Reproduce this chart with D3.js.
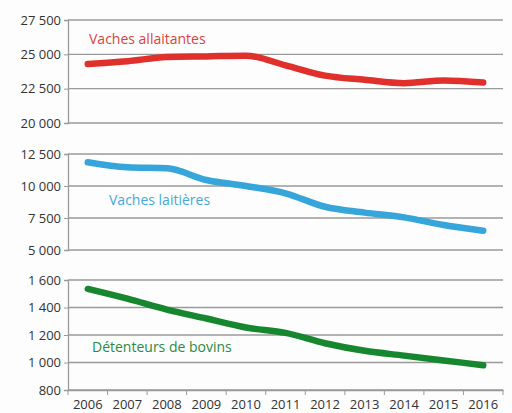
<!DOCTYPE html>
<meta charset="utf-8">
<script src="https://d3js.org/d3.v7.min.js"></script>
<style>
body{ margin:0; background:#fdfdfd; }
text{ font-family: "Open Sans", sans-serif; }
.tick text{ fill:#333; font-size:13px; }
</style>
<div id="chart"></div>
<script>

var years = ["2006","2007","2008","2009","2010","2011","2012","2013","2014","2015","2016"];

var allaitantes = [24300, 24500, 24800, 24850, 24900, 24200, 23450, 23150, 22900, 23100, 22950];
var laitieres   = [11850, 11460, 11380, 10470, 10000, 9430, 8380, 7920, 7550, 6950, 6510];
var detenteurs  = [1535, 1464, 1385, 1320, 1255, 1215, 1140, 1085, 1050, 1015, 980];

var ticksA = [20000, 22500, 25000, 27500];
var ticksL = [5000, 7500, 10000, 12500];
var ticksD = [800, 1000, 1200, 1400, 1600];

var width = 512, height = 413;
var left = 68, right = 503;

var svg = d3.select("#chart").append("svg")
  .attr("width", width)
  .attr("height", height);

var x = d3.scaleBand()
  .domain(years)
  .range([left, right]);

var fmt = function(d){ return d3.format(",")(d).replace(/,/g, " "); };

// un panneau = axe gauche + grille + courbe + libellé
var panel = function(values, ticks, y0, y1, color, label, lx, ly, lcolor){
  var y = d3.scaleLinear()
    .domain([ticks[0], ticks[ticks.length-1]])
    .range([y1, y0]);

  var g = svg.append("g");

  g.selectAll(".grid")
    .data(ticks)
    .enter()
    .append("line")
      .attr("x1", left)
      .attr("x2", right)
      .attr("y1", function(d){ return y(d); })
      .attr("y2", function(d){ return y(d); })
      .attr("stroke", "#9a9a9a")
      .attr("stroke-width", 1.3);

  g.append("g")
    .attr("transform", "translate(" + left + ",0)")
    .call(d3.axisLeft(y).tickValues(ticks).tickFormat(fmt).tickSize(4).tickPadding(3))
    .call(function(a){ a.select(".domain").attr("stroke", "#9a9a9a").attr("stroke-width", 1.3); })
    .call(function(a){ a.selectAll(".tick line").attr("stroke", "#9a9a9a"); });

  var line = d3.line()
    .x(function(d, i){ return x(years[i]) + x.bandwidth()/2; })
    .y(function(d){ return y(d); })
    .curve(d3.curveMonotoneX);

  g.append("path")
    .datum(values)
    .attr("d", line)
    .attr("fill", "none")
    .attr("stroke", color)
    .attr("stroke-width", 6.5)
    .attr("stroke-linecap", "round");

  g.append("text")
    .attr("x", lx)
    .attr("y", ly)
    .attr("dy", "0.35em")
    .style("font-size", "14px")
    .style("fill", lcolor)
    .text(label);

  return y;
};

panel(allaitantes, ticksA, 20, 123, "#e0302c", "Vaches allaitantes", 89, 39, "#d9433d");
panel(laitieres, ticksL, 154, 250, "#36a5da", "Vaches laitières", 109, 200, "#45a9d8");
panel(detenteurs, ticksD, 280, 390, "#16862f", "Détenteurs de bovins", 92, 347, "#2a8a3e");

// axe des années
svg.append("g")
  .attr("transform", "translate(0,390)")
  .call(d3.axisBottom(x).tickSize(0).tickPadding(10))
  .call(function(a){ a.select(".domain").attr("stroke", "#9a9a9a").attr("stroke-width", 1.3); });

svg.append("g")
  .selectAll("tk")
  .data(years.concat(["end"]))
  .enter()
  .append("line")
    .attr("x1", function(d, i){ return left + i * x.bandwidth(); })
    .attr("x2", function(d, i){ return left + i * x.bandwidth(); })
    .attr("y1", 390)
    .attr("y2", 395)
    .attr("stroke", "#9a9a9a");

</script>
